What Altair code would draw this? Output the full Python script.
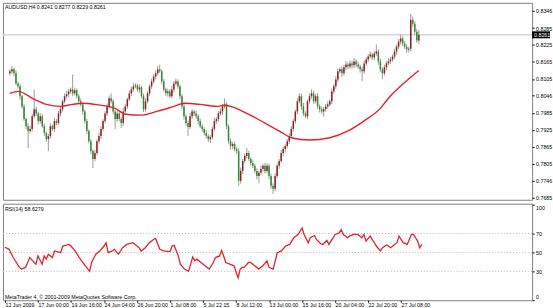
import altair as alt
import pandas as pd

FONT = "Liberation Sans"
FS = 5.3

symbol_title = ["AUDUSD,H4 0.8241 0.8277 0.8229 0.8261"]
rsi_title = ["RSI(14) 58.6279"]
copyright_text = ["MetaTrader 4, © 2001-2009 MetaQuotes Software Corp."]

date_ticks = [0, 16, 32, 48, 64, 80, 96, 112, 128, 144, 160, 176, 192]
date_labels = ["12 Jun 2009", "17 Jun 00:00", "19 Jun 16:00", "24 Jun 04:00", "26 Jun 20:00",
               "1 Jul 08:00", "5 Jul 22:15", "8 Jul 12:00", "13 Jul 00:00", "15 Jul 16:00",
               "20 Jul 04:00", "22 Jul 20:00", "27 Jul 08:00"]

price_ticks = [0.8346, 0.8285, 0.8225, 0.8165, 0.8105, 0.8046, 0.7985, 0.7925,
               0.7865, 0.7805, 0.7746, 0.7685]
bid_price = [0.8261]
rsi_axis_values = [0, 30, 50, 70, 100]
rsi_levels = [30, 50, 70]

first_open = 0.8125
closes = [
    0.8132, 0.8139, 0.8125, 0.8089, 0.8079, 0.8044, 0.8008, 0.7963, 0.7938, 0.7921,
    0.7928, 0.7973, 0.7998, 0.7983, 0.7956, 0.7973, 0.7938, 0.7914, 0.7892, 0.7903,
    0.7938, 0.7928, 0.7956, 0.7949, 0.7983, 0.7998, 0.8026, 0.8044, 0.8051, 0.8061,
    0.8068, 0.8054, 0.8065, 0.8044, 0.8026, 0.8015, 0.7990, 0.7956, 0.7921, 0.7885,
    0.7850, 0.7822, 0.7843, 0.7885, 0.7903, 0.7928, 0.7956, 0.7983, 0.8008, 0.8037,
    0.8026, 0.7990, 0.7963, 0.7983, 0.7963, 0.7949, 0.7990, 0.8008, 0.8033, 0.8054,
    0.8068, 0.8079, 0.8082, 0.8068, 0.8075, 0.8044, 0.7998, 0.8026, 0.8054, 0.8079,
    0.8096, 0.8114, 0.8125, 0.8139, 0.8132, 0.8096, 0.8068, 0.8054, 0.8061, 0.8044,
    0.8068, 0.8089, 0.8096, 0.8079, 0.8044, 0.8008, 0.7973, 0.7949, 0.7935, 0.7973,
    0.7990, 0.7983, 0.7973, 0.7956, 0.7938, 0.7928, 0.7914, 0.7903, 0.7892, 0.7899,
    0.7928, 0.7956, 0.7963, 0.7983, 0.7990, 0.8008, 0.8015, 0.7938, 0.7885, 0.7868,
    0.7875, 0.7857, 0.7850, 0.7745, 0.7780, 0.7815, 0.7833, 0.7843, 0.7822, 0.7808,
    0.7798, 0.7780, 0.7762, 0.7773, 0.7787, 0.7798, 0.7780, 0.7798, 0.7762, 0.7727,
    0.7717, 0.7762, 0.7798, 0.7815, 0.7843, 0.7857, 0.7868, 0.7885, 0.7903, 0.7928,
    0.7956, 0.7990, 0.8026, 0.8044, 0.8008, 0.7983, 0.7973, 0.8026, 0.8044, 0.8054,
    0.8026, 0.8044, 0.8008, 0.7998, 0.7990, 0.7998, 0.8008, 0.8015, 0.8026, 0.8061,
    0.8079, 0.8103, 0.8132, 0.8139, 0.8125, 0.8146, 0.8156, 0.8149, 0.8160, 0.8153,
    0.8167, 0.8156, 0.8149, 0.8139, 0.8132, 0.8160, 0.8174, 0.8184, 0.8191, 0.8181,
    0.8195, 0.8202, 0.8167, 0.8139, 0.8125, 0.8146, 0.8160, 0.8167, 0.8174, 0.8184,
    0.8202, 0.8219, 0.8237, 0.8248, 0.8230, 0.8219, 0.8209, 0.8212, 0.8314, 0.8300,
    0.8272, 0.8241, 0.8261,
]
upper_wick_pips = [
    8, 12, 6, 10, 7, 9, 5, 8, 6, 10,
    12, 9, 70, 8, 6, 11, 7, 9, 5, 8,
    10, 6, 12, 7, 9, 8, 6, 10, 12, 8,
    7, 53, 9, 6, 8, 10, 5, 7, 9, 6,
    8, 7, 10, 6, 12, 9, 7, 8, 10, 9,
    17, 8, 6, 10, 7, 9, 12, 8, 6, 10,
    9, 12, 8, 7, 10, 6, 9, 11, 8, 7,
    10, 8, 9, 12, 17, 7, 9, 6, 10, 8,
    12, 9, 10, 7, 6, 8, 10, 7, 9, 12,
    8, 6, 10, 7, 9, 8, 6, 10, 7, 8,
    9, 12, 7, 8, 10, 9, 21, 8, 6, 10,
    7, 9, 8, 10, 12, 7, 9, 18, 8, 6,
    10, 7, 9, 8, 12, 6, 10, 9, 7, 8,
    9, 10, 8, 7, 11, 9, 6, 8, 10, 9,
    8, 7, 10, 10, 9, 12, 8, 7, 10, 14,
    9, 8, 12, 7, 10, 8, 9, 11, 7, 10,
    8, 12, 9, 7, 10, 9, 12, 8, 10, 9,
    12, 8, 10, 7, 9, 10, 8, 9, 11, 7,
    9, 25, 8, 10, 7, 9, 8, 12, 9, 7,
    10, 8, 9, 14, 8, 10, 9, 7, 21, 12,
    9, 10, 16,
]
lower_wick_pips = [
    7, 9, 10, 6, 8, 12, 9, 7, 10, 60,
    8, 10, 7, 9, 12, 8, 6, 10, 9, 42,
    9, 7, 10, 8, 6, 11, 9, 7, 8, 10,
    8, 10, 7, 9, 6, 8, 12, 9, 10, 8,
    10, 32, 8, 7, 9, 10, 6, 8, 9, 7,
    8, 10, 35, 9, 7, 18, 10, 8, 9, 6,
    10, 8, 7, 9, 12, 8, 10, 9, 7, 8,
    9, 7, 10, 8, 6, 10, 8, 9, 12, 7,
    8, 10, 7, 9, 10, 8, 12, 9, 32, 7,
    10, 9, 8, 12, 7, 10, 9, 8, 10, 14,
    8, 7, 10, 9, 8, 12, 7, 10, 9, 12,
    10, 8, 9, 18, 10, 12, 8, 9, 7, 10,
    8, 9, 12, 25, 7, 10, 9, 8, 12, 10,
    18, 9, 8, 10, 7, 12, 9, 8, 10, 7,
    9, 8, 10, 7, 12, 9, 7, 10, 8, 9,
    10, 8, 9, 12, 10, 18, 8, 9, 7, 10,
    8, 10, 9, 7, 12, 8, 10, 9, 8, 12,
    9, 10, 8, 12, 35, 9, 8, 10, 7, 9,
    10, 8, 12, 9, 21, 8, 10, 7, 9, 8,
    9, 12, 8, 10, 9, 8, 12, 10, 9, 11,
    10, 8, 12,
]

ma_bar = [0, 4, 12, 18, 25, 31, 36, 42, 52, 57, 65, 73, 81, 86, 94, 102, 106, 118, 126,
          134, 139, 148, 158, 167, 175, 183, 187, 194, 202]
ma_val = [0.8054, 0.8061, 0.8033, 0.8015, 0.8008, 0.8015, 0.8019, 0.8015, 0.8001, 0.7980,
          0.7977, 0.7991, 0.8008, 0.8019, 0.8015, 0.8008, 0.8012, 0.7980, 0.7949, 0.7917,
          0.7897, 0.7889, 0.7897, 0.7921, 0.7957, 0.8001, 0.8037, 0.8086, 0.8135]

rsi_bar = [0, 2, 4, 7, 8, 10, 11, 12, 15, 16,
           18, 19, 20, 21, 23, 24, 27, 28, 31, 32,
           34, 36, 39, 41, 42, 44, 46, 48, 49, 50,
           52, 53, 55, 57, 59, 62, 64, 65, 66, 68,
           70, 72, 73, 75, 77, 80, 81, 82, 84, 85,
           87, 89, 90, 91, 92, 93, 95, 97, 99, 101,
           102, 104, 105, 106, 107, 109, 111, 113, 114, 115,
           116, 118, 119, 121, 123, 125, 127, 128, 130, 131,
           132, 134, 136, 138, 140, 142, 144, 145, 147, 148,
           150, 151, 153, 154, 156, 157, 159, 160, 162, 163,
           164, 166, 167, 169, 171, 173, 174, 175, 177, 179,
           180, 182, 183, 185, 187, 188, 190, 191, 193, 195,
           197, 198, 200, 201, 202]
rsi_val = [55.5, 53.3, 44.6, 34.2, 32.4, 34.2, 39.4, 44.6, 37.6, 46.3,
           37.6, 46.3, 42.9, 48.1, 44.6, 51.6, 49.8, 56.8, 58.5, 56.8,
           51.6, 44.6, 35.9, 30.0, 39.4, 48.1, 51.6, 56.8, 60.3, 49.8,
           51.6, 53.3, 48.1, 55.0, 58.5, 60.3, 56.8, 55.0, 51.6, 55.0,
           60.3, 63.7, 64.8, 53.3, 51.6, 50.9, 56.8, 57.5, 46.3, 37.6,
           32.4, 30.0, 37.6, 45.3, 41.1, 42.9, 39.4, 35.9, 32.4, 39.4,
           44.6, 46.3, 52.3, 46.3, 39.4, 37.6, 35.9, 23.0, 32.4, 34.2,
           34.2, 39.4, 39.4, 35.9, 32.4, 35.9, 41.1, 34.2, 32.4, 41.1,
           49.8, 51.6, 56.8, 58.5, 65.5, 69.0, 75.9, 69.0, 60.3, 65.5,
           67.9, 63.7, 59.2, 58.5, 62.7, 58.5, 65.5, 69.0, 70.7, 74.2,
           69.0, 65.5, 67.2, 69.0, 69.0, 65.5, 69.0, 62.0, 67.2, 60.3,
           56.8, 51.6, 55.0, 57.8, 55.0, 56.8, 60.3, 67.2, 60.3, 58.5,
           69.0, 69.0, 62.0, 55.0, 58.6]

# ---- build tables ----
opens = [first_open] + closes[:-1]
rows = []
for i, (o, c) in enumerate(zip(opens, closes)):
    rows.append(dict(
        i=i, open=o, close=c,
        high=round(max(o, c) + upper_wick_pips[i] / 10000, 4),
        low=round(min(o, c) - lower_wick_pips[i] / 10000, 4),
        dir="up" if c >= o else "down",
    ))
bars = pd.DataFrame(rows)
ma_df = pd.DataFrame({"i": ma_bar, "ma": ma_val})
rsi_df = pd.DataFrame({"i": rsi_bar, "rsi": rsi_val})
bid_df = pd.DataFrame({"p": bid_price, "t": [f"{bid_price[0]:.4f}"]})
lvl_df = pd.DataFrame({"lv": rsi_levels})

W = 532
H_MAIN = 198
H_RSI = 97

x_scale = alt.Scale(domain=[-0.96, 255.5], nice=False, zero=False)
p_scale = alt.Scale(domain=[0.76779, 0.83741], nice=False, zero=False)
r_scale = alt.Scale(domain=[-0.5, 101.5], nice=False, zero=False)

price_axis = alt.Axis(orient="right", values=price_ticks, format=".4f", labelFont=FONT,
                      labelFontSize=FS, labelColor="black", tickColor="black", tickSize=2,
                      labelPadding=1.5, domain=False, grid=False, labelFlush=False)
rsi_axis = alt.Axis(orient="right", values=rsi_axis_values, format="d", labelFont=FONT,
                    labelFontSize=FS, labelColor="black", tickColor="black", tickSize=2,
                    labelPadding=1.5, domain=False, grid=False, labelFlush=3)
label_js = "[" + ",".join("'" + s + "'" for s in date_labels) + "]"
x_axis = alt.Axis(values=date_ticks, labelExpr=label_js + "[round(datum.value/16)]",
                  labelAlign="left", labelFont=FONT, labelFontSize=FS, labelColor="black",
                  tickColor="black", tickSize=2, labelPadding=0.5, domain=False, grid=False,
                  labelFlush=False, labelOverlap=False)


def py(field):
    return alt.Y(f"{field}:Q", scale=p_scale, axis=price_axis, title=None)


def px(field="i"):
    return alt.X(f"{field}:Q", scale=x_scale, axis=None, title=None)


bid_line = alt.Chart(bid_df).mark_rule(color="#d6d6d6", strokeWidth=1.6).encode(
    y=py("p"), x=alt.value(0), x2=alt.value(W))

wicks = alt.Chart(bars).mark_rule(color="#9a9a9a", strokeWidth=1).encode(
    x=px(), y=py("low"), y2="high")

bodies = alt.Chart(bars).mark_bar(width=1.5).encode(
    x=px(), y=py("open"), y2="close",
    color=alt.Color("dir:N", scale=alt.Scale(domain=["up", "down"],
                                             range=["#8e1f1f", "#2f8a2f"]), legend=None))

ma_line = alt.Chart(ma_df).mark_line(color="#e2232b", strokeWidth=1.4,
                                     interpolate="monotone").encode(x=px(), y=py("ma"))

title_txt = alt.Chart(pd.DataFrame({"t": symbol_title})).mark_text(
    align="left", baseline="middle", font=FONT, fontSize=FS, color="black").encode(
    x=alt.value(2), y=alt.value(4.5), text="t:N")

bid_box = alt.Chart(bid_df).mark_tick(orient="horizontal", size=18, thickness=7,
                                      color="black", opacity=1).encode(
    x=alt.value(541), y=py("p"))
bid_txt = alt.Chart(bid_df).mark_text(align="left", baseline="middle", font=FONT,
                                      fontSize=FS, color="white").encode(
    x=alt.value(534), y=py("p"), text="t:N")

main = alt.layer(bid_line, wicks, bodies, ma_line, title_txt, bid_box, bid_txt).properties(
    width=W, height=H_MAIN)


def ry(field):
    return alt.Y(f"{field}:Q", scale=r_scale, axis=rsi_axis, title=None)


levels = alt.Chart(lvl_df).mark_rule(color="#b8b8b8", strokeDash=[1, 2], strokeWidth=1).encode(
    y=ry("lv"), x=alt.value(0), x2=alt.value(W))

rsi_line = alt.Chart(rsi_df).mark_line(color="#e2232b", strokeWidth=1.3).encode(
    x=alt.X("i:Q", scale=x_scale, axis=x_axis, title=None), y=ry("rsi"))

rsi_txt = alt.Chart(pd.DataFrame({"t": rsi_title})).mark_text(
    align="left", baseline="middle", font=FONT, fontSize=FS, color="black").encode(
    x=alt.value(2), y=alt.value(5.5), text="t:N")

copy_txt = alt.Chart(pd.DataFrame({"t": copyright_text})).mark_text(
    align="left", baseline="middle", font=FONT, fontSize=FS, color="black").encode(
    x=alt.value(2), y=alt.value(93.5), text="t:N")

rsi = alt.layer(levels, rsi_line, rsi_txt, copy_txt).properties(width=W, height=H_RSI)

chart = alt.vconcat(main, rsi, spacing=1).properties(
    padding={"left": 1, "top": 1, "right": 0, "bottom": 0},
    background="white",
).configure_view(stroke="#808080", strokeWidth=1)

chart.save("out.html", embed_options={"renderer": "svg", "actions": False})
